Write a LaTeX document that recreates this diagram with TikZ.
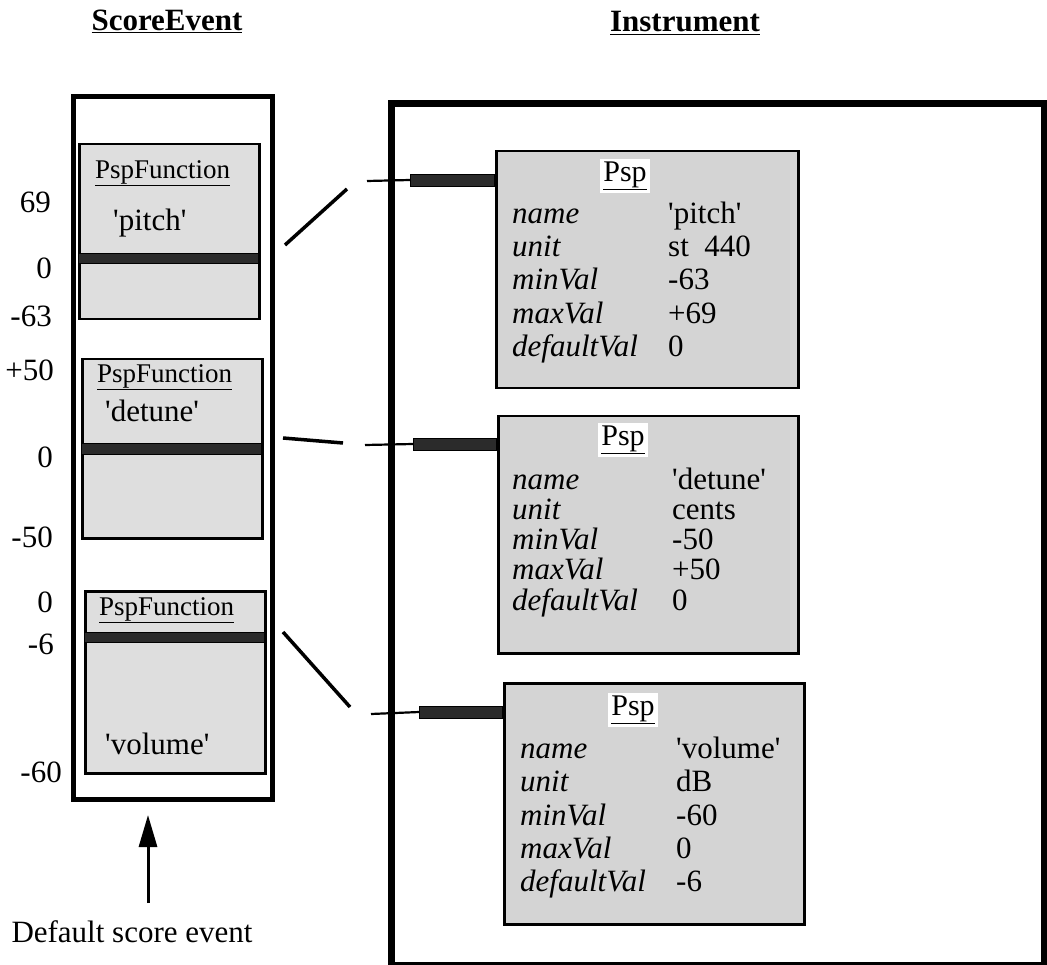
\documentclass[tikz,border=0pt]{standalone}
\usepackage{fontspec}
\setmainfont{Liberation Serif}
\usetikzlibrary{arrows.meta}
\definecolor{fngray}{gray}{0.87}
\definecolor{boxgray}{gray}{0.83}
\definecolor{bandgray}{gray}{0.17}
\newcommand{\sq}{\textquotesingle}
\begin{document}
\begin{tikzpicture}[x=1pt,y=-1pt,
  outerframe/.style={draw=black, line width=5pt, anchor=north west, inner sep=0pt},
  instframe/.style={draw=black, line width=7pt, anchor=north west, inner sep=0pt},
  fnbox/.style={draw=black, line width=2.5pt, fill=fngray, anchor=north west, inner sep=0pt},
  pspbox/.style={draw=black, line width=2.5pt, fill=boxgray, anchor=north west, inner sep=0pt},
  band/.style={draw=black, line width=0.8pt, fill=bandgray, anchor=north west, inner sep=0pt},
  bar/.style={draw=black, line width=0.8pt, fill=bandgray, anchor=east, inner sep=0pt, minimum height=12pt},
  txt/.style={font=\fontsize{31}{34}\selectfont, inner sep=0pt},
  head/.style={font=\fontsize{27}{30}\selectfont, inner sep=0pt},
  pshead/.style={font=\fontsize{30}{32}\selectfont, fill=white, inner sep=3pt},
  key/.style={font=\fontsize{31}{34}\selectfont\itshape, inner sep=0pt, anchor=base west},
  val/.style={font=\fontsize{31}{34}\selectfont, inner sep=0pt, anchor=base west},
  title/.style={font=\fontsize{31}{34}\selectfont\bfseries, inner sep=0pt},
  diag/.style={draw=black, line width=3.5pt},
  thin/.style={draw=black, line width=2.2pt}
]
\useasboundingbox (0,0) rectangle (1047,965);

% titles
\node[title] (tse) at (167,21) {\underline{ScoreEvent}};
\node[title] (tin) at (685,23) {\underline{Instrument}};

% ScoreEvent frame
\node[outerframe, minimum width=199pt, minimum height=703pt] (se) at (71,94) {};

% pitch function
\node[fnbox, minimum width=180pt, minimum height=175pt] (f1) at (78,143) {};
\node[band, minimum width=180pt, minimum height=10pt] (b1) at (78,253) {};
\node[head, anchor=west] (f1h) at (95,173) {\underline{PspFunction}};
\node[txt, anchor=base west] (f1n) at (113,231) {\sq pitch\sq};

% detune function
\node[fnbox, minimum width=180pt, minimum height=179pt] (f2) at (81,358) {};
\node[band, minimum width=180pt, minimum height=11pt] (b2) at (81,443) {};
\node[head, anchor=west] (f2h) at (97,377) {\underline{PspFunction}};
\node[txt, anchor=base west] (f2n) at (105,421) {\sq detune\sq};

% volume function
\node[fnbox, minimum width=180pt, minimum height=182pt] (f3) at (84,590) {};
\node[band, minimum width=180pt, minimum height=10pt] (b3) at (84,632) {};
\node[head, anchor=west] (f3h) at (99,610) {\underline{PspFunction}};
\node[txt, anchor=base west] (f3n) at (105,754) {\sq volume\sq};

% scale labels
\node[txt, anchor=east] (l69) at (51,202) {69};
\node[txt, anchor=east] (l0a) at (52,268) {0};
\node[txt, anchor=east] (l63) at (52,316) {-63};
\node[txt, anchor=east] (l50p) at (54,370) {+50};
\node[txt, anchor=east] (l0b) at (53,457) {0};
\node[txt, anchor=east] (l50m) at (53,537) {-50};
\node[txt, anchor=east] (l0c) at (53,602) {0};
\node[txt, anchor=east] (l6) at (54,644) {-6};
\node[txt, anchor=east] (l60) at (62,772) {-60};

% default score event arrow
\node[txt, anchor=base] (dse) at (132,942) {Default score event};
\coordinate (arrtail) at (148,903);
\coordinate (arrtip) at (148,815);
\draw[line width=3pt, -{Triangle[length=32pt,width=18pt]}] (arrtail) -- (arrtip);

% Instrument frame
\node[instframe, minimum width=653pt, minimum height=862pt] (inst) at (388,100) {};

% Psp boxes
\node[pspbox, minimum width=302pt, minimum height=237pt] (p1) at (495,150) {};
\node[pshead] (p1h) at (625,176) {\underline{Psp}};
\node[key] (p1k1) at (512,224) {name};
\node[key] (p1k2) at (512,257) {unit};
\node[key] (p1k3) at (512,290) {minVal};
\node[key] (p1k4) at (512,324) {maxVal};
\node[key] (p1k5) at (512,357) {defaultVal};
\node[val] (p1v1) at (668,224) {\sq pitch\sq};
\node[val] (p1v2) at (668,257) {st\ \ 440};
\node[val] (p1v3) at (668,290) {-63};
\node[val] (p1v4) at (668,324) {+69};
\node[val] (p1v5) at (668,357) {0};

\node[pspbox, minimum width=300pt, minimum height=237pt] (p2) at (497,415) {};
\node[pshead] (p2h) at (623,440) {\underline{Psp}};
\node[key] (p2k1) at (512,489) {name};
\node[key] (p2k2) at (512,519) {unit};
\node[key] (p2k3) at (512,549) {minVal};
\node[key] (p2k4) at (512,579) {maxVal};
\node[key] (p2k5) at (512,610) {defaultVal};
\node[val] (p2v1) at (672,489) {\sq detune\sq};
\node[val] (p2v2) at (672,519) {cents};
\node[val] (p2v3) at (672,549) {-50};
\node[val] (p2v4) at (672,579) {+50};
\node[val] (p2v5) at (672,610) {0};

\node[pspbox, minimum width=300pt, minimum height=241pt] (p3) at (503,682) {};
\node[pshead] (p3h) at (633,710) {\underline{Psp}};
\node[key] (p3k1) at (520,758) {name};
\node[key] (p3k2) at (520,791) {unit};
\node[key] (p3k3) at (520,825) {minVal};
\node[key] (p3k4) at (520,858) {maxVal};
\node[key] (p3k5) at (520,891) {defaultVal};
\node[val] (p3v1) at (676,758) {\sq volume\sq};
\node[val] (p3v2) at (676,791) {dB};
\node[val] (p3v3) at (676,825) {-60};
\node[val] (p3v4) at (676,858) {0};
\node[val] (p3v5) at (676,891) {-6};

% connector bars
\node[bar, minimum width=84pt] (bar1) at (p1.west |- 0,180) {};
\node[bar, minimum width=83pt] (bar2) at (p2.west |- 0,444) {};
\node[bar, minimum width=83pt] (bar3) at (p3.west |- 0,712) {};

% connectors
\coordinate (c1a) at (285,245);
\coordinate (c1b) at (347,189);
\coordinate (c1c) at (367,181);
\draw[diag] (c1a) -- (c1b);
\draw[thin] (c1c) -- (bar1.west);

\coordinate (c2a) at (283,438);
\coordinate (c2b) at (343,443);
\coordinate (c2c) at (365,445);
\draw[diag] (c2a) -- (c2b);
\draw[thin] (c2c) -- (bar2.west);

\coordinate (c3a) at (283,632);
\coordinate (c3b) at (350,707);
\coordinate (c3c) at (371,714);
\draw[diag] (c3a) -- (c3b);
\draw[thin] (c3c) -- (bar3.west);
\end{tikzpicture}
\end{document}
